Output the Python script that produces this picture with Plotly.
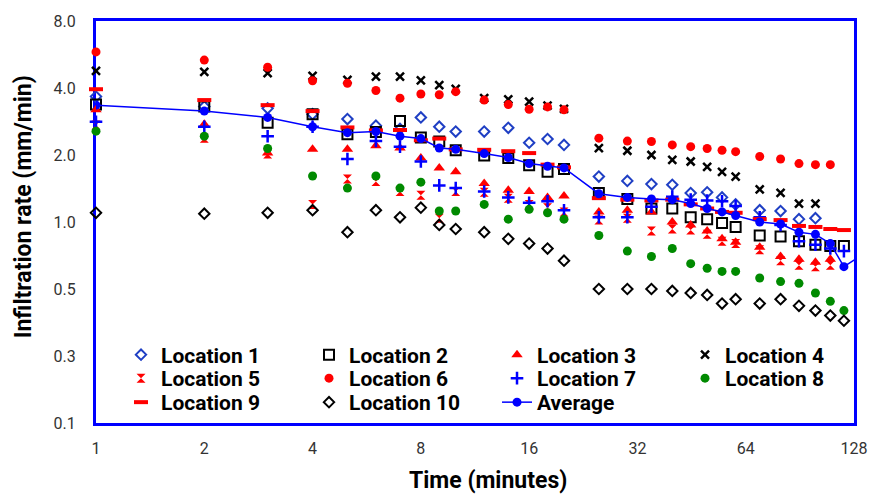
import plotly.graph_objects as go

times = [1, 2, 3, 4, 5, 6, 7, 8, 9, 10, 12, 14, 16, 18, 20, 25, 30, 35, 40, 45, 50, 55, 60, 70, 80, 90, 100, 110, 120]

loc1 = [3.66, 3.30, 3.24, 3.05, 2.90, 2.71, 2.62, 2.95, 2.68, 2.55, 2.55, 2.65, 2.27, 2.36, 2.22, 1.60, 1.53, 1.48, 1.47, 1.35, 1.36, 1.29, 1.20, 1.13, 1.12, 1.03, 1.04, None, None]
loc2 = [3.37, 3.30, 2.79, 3.05, 2.48, 2.54, 2.84, 2.40, 2.30, 2.10, 1.99, 1.94, 1.80, 1.68, 1.73, 1.35, 1.27, 1.15, 1.15, 1.05, 1.03, 0.99, 0.95, 0.87, 0.86, 0.82, 0.79, 0.78, 0.78]
loc3 = [3.19, 2.75, 2.04, 2.12, 2.12, 2.20, 2.15, 1.94, 1.75, 1.68, 1.49, 1.39, 1.37, 1.29, 1.31, 1.11, 1.13, 1.11, 1.00, 0.97, 0.91, 0.84, 0.81, 0.77, 0.70, 0.68, 0.66, 0.68, None]
loc4 = [4.77, 4.73, 4.66, 4.53, 4.35, 4.50, 4.50, 4.33, 4.12, 3.96, 3.60, 3.56, 3.47, 3.33, 3.22, 2.15, 2.09, 2.00, 1.90, 1.87, 1.77, 1.68, 1.60, 1.40, 1.35, 1.21, 1.21, None, None]
loc5 = [2.73, 2.38, 2.02, 1.20, 1.56, 1.52, 1.37, 1.32, 1.04, 1.37, 1.36, 1.28, 1.20, 1.16, 1.11, 1.02, 1.04, 0.91, 0.93, 0.92, 0.88, 0.82, 0.80, 0.75, 0.67, 0.64, 0.63, 0.64, None]
loc6 = [5.81, 5.34, 4.96, 4.31, 4.20, 3.90, 3.60, 3.76, 3.73, 3.85, 3.53, 3.37, 3.21, 3.29, 3.19, 2.38, 2.31, 2.30, 2.22, 2.18, 2.14, 2.10, 2.07, 1.97, 1.92, 1.83, 1.81, 1.81, None]
loc7 = [2.82, 2.68, 2.43, 2.68, 1.92, 2.31, 2.18, 1.87, 1.46, 1.42, 1.37, 1.29, 1.22, 1.24, 1.13, 1.05, 1.05, 1.17, 1.30, 1.26, 1.25, 1.24, 1.18, 1.05, 0.97, 0.82, 0.79, 0.76, 0.74]
loc8 = [2.56, 2.43, 2.14, 1.61, 1.42, 1.61, 1.42, 1.51, 1.12, 1.12, 1.20, 1.03, 1.14, 1.10, 1.03, 0.87, 0.74, 0.70, 0.76, 0.65, 0.62, 0.60, 0.60, 0.56, 0.54, 0.53, 0.48, 0.44, 0.40]
loc9 = [3.95, 3.53, 3.35, 3.15, 2.66, 2.58, 2.59, 2.33, 2.37, 2.12, 2.11, 2.08, 2.04, 1.81, 1.76, 1.28, 1.26, 1.25, 1.26, 1.20, 1.15, 1.11, 1.10, 1.03, 1.02, 0.96, 0.95, 0.93, 0.92]
loc10 = [1.10, 1.09, 1.10, 1.13, 0.90, 1.13, 1.05, 1.16, 0.97, 0.93, 0.90, 0.84, 0.80, 0.76, 0.67, 0.50, 0.50, 0.50, 0.49, 0.48, 0.47, 0.43, 0.45, 0.43, 0.45, 0.42, 0.40, 0.38, 0.36]

avg_times = times + [140]
average = [3.35, 3.15, 2.95, 2.68, 2.52, 2.55, 2.43, 2.37, 2.15, 2.12, 2.03, 1.95, 1.83, 1.78, 1.75, 1.34, 1.29, 1.27, 1.26, 1.21, 1.15, 1.11, 1.07, 1.00, 0.98, 0.90, 0.88, 0.80, 0.63, 0.74]

x_ticks = [1, 2, 4, 8, 16, 32, 64, 128]
x_ticktext = ["1", "2", "4", "8", "16", "32", "64", "128"]
y_ticks = [0.125, 0.25, 0.5, 1, 2, 4, 8]
y_ticktext = ["0.1", "0.3", "0.5", "1.0", "2.0", "4.0", "8.0"]

RED = "#ff0000"
BLUE = "#0000ff"
DBLUE = "#1f3fc4"
GREEN = "#008a00"
BLACK = "#000000"

series = [
    ("Location 1", loc1, dict(symbol="diamond-open", size=8, color=DBLUE, line=dict(width=2, color=DBLUE)), "legend"),
    ("Location 2", loc2, dict(symbol="square-open", size=10, color=BLACK, line=dict(width=2, color=BLACK)), "legend"),
    ("Location 3", loc3, dict(symbol="triangle-up", size=10, color=RED), "legend"),
    ("Location 4", loc4, dict(symbol="x-thin", size=8, color=BLACK, line=dict(width=2.5, color=BLACK)), "legend"),
    ("Location 5", loc5, dict(symbol="hourglass", size=9, color=RED), "legend2"),
    ("Location 6", loc6, dict(symbol="circle", size=9, color=RED), "legend2"),
    ("Location 7", loc7, dict(symbol="cross-thin", size=9, color=BLUE, line=dict(width=2.5, color=BLUE)), "legend2"),
    ("Location 8", loc8, dict(symbol="circle", size=9, color=GREEN), "legend2"),
    ("Location 9", loc9, dict(symbol="line-ew", size=10, color=RED, line=dict(width=4, color=RED)), "legend3"),
    ("Location 10", loc10, dict(symbol="diamond-open", size=8, color=BLACK, line=dict(width=2, color=BLACK)), "legend3"),
]

fig = go.Figure()
for name, vals, mk, lg in series:
    fig.add_trace(go.Scatter(x=times, y=vals, mode="markers", name=name, marker=mk,
                             cliponaxis=False, legend=lg))

fig.add_trace(go.Scatter(x=avg_times, y=average, mode="lines+markers", name="Average",
                         line=dict(color=BLUE, width=1.5),
                         marker=dict(symbol="circle", size=9, color=BLUE),
                         cliponaxis=True, legend="legend3"))

font = "Roboto, Arial, sans-serif"
leg_common = dict(orientation="h", x=0.033, xanchor="left", yanchor="middle",
                  bgcolor="rgba(0,0,0,0)", borderwidth=0,
                  font=dict(family=font, size=21, color="#000000", weight="bold"),
                  entrywidth=143, entrywidthmode="pixels", itemwidth=30)

fig.update_layout(
    width=885, height=495,
    margin=dict(l=96, r=18, t=21, b=72),
    paper_bgcolor="white", plot_bgcolor="white",
    showlegend=True,
    legend=dict(y=(423 - 355) / 402, **leg_common),
    legend2=dict(y=(423 - 378.5) / 402, **leg_common),
    legend3=dict(y=(423 - 402.5) / 402, **leg_common),
    font=dict(family=font),
)

fig.update_xaxes(type="log", range=[0, 2.10721], tickvals=x_ticks, ticktext=x_ticktext,
                 showgrid=False, zeroline=False, showline=True, mirror=True,
                 linecolor=BLUE, linewidth=3, ticks="", layer="below traces",
                 tickfont=dict(family=font, size=16, color="#333333"), ticklabelstandoff=9)
fig.update_yaxes(type="log", range=[-0.90309, 0.90309], tickvals=y_ticks, ticktext=y_ticktext,
                 showgrid=False, zeroline=False, showline=True, mirror=True,
                 linecolor=BLUE, linewidth=3, ticks="", layer="below traces",
                 tickfont=dict(family=font, size=16, color="#333333"), ticklabelstandoff=14)

fig.add_annotation(text="<b>Infiltration rate (mm/min)</b>", xref="paper", yref="paper",
                   x=(22 - 96) / 771, y=(423 - 207) / 402, xanchor="center", yanchor="middle",
                   textangle=-90, showarrow=False,
                   font=dict(family=font, size=23, color="#000000"))
fig.add_annotation(text="<b>Time (minutes)</b>", xref="paper", yref="paper",
                   x=(495 - 96) / 771, y=(423 - 481) / 402, xanchor="center", yanchor="middle",
                   showarrow=False,
                   font=dict(family=font, size=23, color="#000000"))

fig.write_html("out.html")
